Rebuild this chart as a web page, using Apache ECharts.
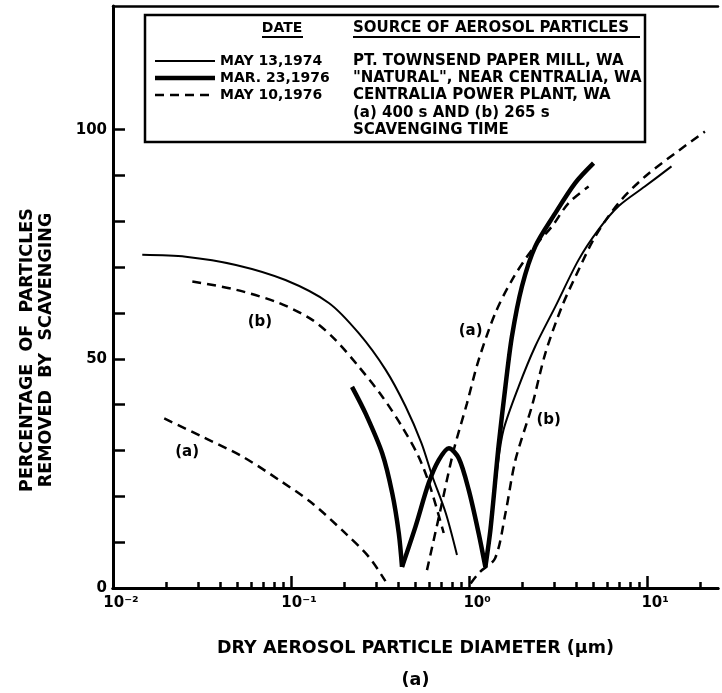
<!DOCTYPE html>
<html>
<head>
<meta charset="utf-8">
<script src="https://cdn.jsdelivr.net/npm/echarts@6/dist/echarts.min.js"></script>
<style>
  html, body { margin: 0; padding: 0; background: #fff; }
  #chart { width: 722px; height: 693px; }
</style>
</head>
<body>
<div id="chart"></div>
<script>
// diameter (um) / percentage removed
const mill1974Left = [[0.0146, 72.7], [0.0256, 72.3], [0.049, 70.5], [0.093, 67.2], [0.163, 62.2], [0.24, 55.6], [0.34, 47.6], [0.44, 39.6], [0.54, 31.6], [0.62, 24.5], [0.74, 16.3], [0.855, 7.2]];
const mill1974Right = [[1.23, 4.5], [1.33, 14], [1.45, 27], [1.56, 34.5], [1.9, 44], [2.35, 52.7], [3.05, 61.4], [4.12, 71.6], [5.33, 78.2], [6.9, 83.3], [9.7, 87.6], [13.7, 92]];
const natural1976Fall = [[0.22, 43.9], [0.262, 38.1], [0.325, 29.4], [0.37, 20.7], [0.403, 11.9], [0.42, 4.6]];
const natural1976Hump = [[0.42, 4.6], [0.5, 13.4], [0.593, 22.9], [0.675, 27.9], [0.77, 30.5], [0.875, 28.3], [0.995, 21.4], [1.132, 11.9], [1.234, 4.6]];
const natural1976Rise = [[1.234, 4.6], [1.32, 13], [1.466, 31.2], [1.6, 44], [1.74, 54.9], [1.98, 65.8], [2.35, 74.5], [3.05, 81.8], [3.95, 88.4], [5.0, 92.7]];
const plant1976LeftA = [[0.0194, 37.0], [0.0318, 33.0], [0.0532, 28.7], [0.0855, 23.6], [0.1315, 18.5], [0.2023, 11.9], [0.2734, 6.8], [0.339, 1.5]];
const plant1976LeftB = [[0.0279, 66.9], [0.0489, 65.1], [0.0855, 62.2], [0.1315, 58.5], [0.178, 54.1], [0.24, 48.3], [0.325, 41.8], [0.42, 35.2], [0.52, 28.7], [0.6, 22.5], [0.72, 12]];
const plant1976RightA = [[0.58, 3.9], [0.69, 17], [0.82, 30.1], [0.973, 40.3], [1.132, 49.8], [1.404, 60.0], [1.741, 67.2], [2.254, 73.8], [2.92, 78.9], [3.62, 84.0], [4.69, 87.6]];
const plant1976RightB = [[1.02, 1.0], [1.15, 3.5], [1.4, 6.5], [1.6, 16.3], [1.82, 27.9], [2.25, 39.6], [2.68, 51.2], [3.32, 61.4], [4.12, 69.4], [5.11, 76.7], [6.91, 84.0], [9.74, 89.8], [14.4, 94.9], [21.1, 99.6]];

// curve labels
const noteText = ['(b)', '(a)', '(a)', '(b)'];
const noteDiam = [0.0669, 0.0261, 1.02, 2.8];
const notePct = [58.1, 29.7, 56.1, 36.7];

// axis ticks
const diamMajor = [0.01, 0.1, 1, 10];
const diamMinor = [0.02, 0.03, 0.04, 0.05, 0.06, 0.07, 0.08, 0.09, 0.2, 0.3, 0.4, 0.5, 0.6, 0.7, 0.8, 0.9, 2, 3, 4, 5, 6, 7, 8, 9, 20];
const diamLabels = { 0.01: '10⁻²', 0.1: '10⁻¹', 1: '10⁰', 10: '10¹' };
const pctTicks = [0, 10, 20, 30, 40, 50, 60, 70, 80, 90, 100];
const pctLabels = [0, 50, 100];

const dates = ['MAY 13,1974', 'MAR. 23,1976', 'MAY 10,1976'];
const sources = ['PT. TOWNSEND PAPER MILL, WA', '"NATURAL", NEAR CENTRALIA, WA', 'CENTRALIA POWER PLANT, WA', '(a) 400 s AND (b) 265 s', 'SCAVENGING TIME'];

const FONT = 'DejaVu Sans';
const THIN = 2, THICK = 4.5, DASH = 2.5;
const gridBox = { left: 113, right: 4, top: 6, bottom: 105, outerBoundsMode: 'none', containLabel: false };

const chart = echarts.init(document.getElementById('chart'));

function curve(data, width, dashed) {
  return {
    type: 'line',
    xAxisIndex: 0,
    yAxisIndex: 0,
    data: data,
    symbol: 'none',
    smooth: 0.3,
    silent: true,
    lineStyle: { color: '#000', width: width, type: dashed ? [9, 6] : 'solid', cap: 'butt' }
  };
}

const rows = [61, 78, 95, 113, 130];
const legend = [
  { type: 'rect', shape: { x: 145, y: 15, width: 500, height: 127 }, style: { fill: '#fff', stroke: '#000', lineWidth: 2.5 } },
  { type: 'text', x: 282, y: 28, style: { text: 'DATE', font: 'bold 14px ' + FONT, fill: '#000', align: 'center', verticalAlign: 'middle' } },
  { type: 'line', shape: { x1: 262, y1: 37, x2: 303, y2: 37 }, style: { stroke: '#000', lineWidth: 2 } },
  { type: 'text', x: 353, y: 28, style: { text: 'SOURCE OF AEROSOL PARTICLES', font: 'bold 15px ' + FONT, fill: '#000', align: 'left', verticalAlign: 'middle' } },
  { type: 'line', shape: { x1: 353, y1: 37, x2: 640, y2: 37 }, style: { stroke: '#000', lineWidth: 2 } },
  { type: 'line', shape: { x1: 155, y1: rows[0], x2: 215, y2: rows[0] }, style: { stroke: '#000', lineWidth: THIN } },
  { type: 'line', shape: { x1: 155, y1: rows[1], x2: 215, y2: rows[1] }, style: { stroke: '#000', lineWidth: THICK } },
  { type: 'line', shape: { x1: 155, y1: rows[2], x2: 215, y2: rows[2] }, style: { stroke: '#000', lineWidth: DASH, lineDash: [9, 6] } }
];
dates.forEach((d, i) => legend.push({ type: 'text', x: 220, y: rows[i], style: { text: d, font: 'bold 14px ' + FONT, fill: '#000', align: 'left', verticalAlign: 'middle' } }));
sources.forEach((s, i) => legend.push({ type: 'text', x: 353, y: rows[i], style: { text: s, font: 'bold 15px ' + FONT, fill: '#000', align: 'left', verticalAlign: 'middle' } }));

const logAxisBase = { type: 'log', logBase: 10, min: 0.01, max: 25, splitLine: { show: false } };

const option = {
  animation: false,
  backgroundColor: '#fff',
  // second grid only carries the short minor ticks along the bottom
  grid: [Object.assign({}, gridBox), Object.assign({}, gridBox)],
  xAxis: [
    Object.assign({}, logAxisBase, {
      gridIndex: 0, position: 'bottom',
      axisLine: { lineStyle: { color: '#000', width: 3 } },
      axisTick: { inside: true, length: 12, customValues: diamMajor, lineStyle: { color: '#000', width: 2.5 } },
      axisLabel: {
        customValues: diamMajor, margin: 8, color: '#000',
        fontFamily: FONT, fontWeight: 'bold', fontSize: 15, padding: [0, 0, 0, 16],
        formatter: v => diamLabels[v] || ''
      },
      name: 'DRY AEROSOL PARTICLE DIAMETER (\u03bcm)\n(a)',
      nameLocation: 'middle', nameGap: 44,
      nameTextStyle: { color: '#000', fontFamily: FONT, fontWeight: 'bold', fontSize: 17.5, lineHeight: 32 }
    }),
    Object.assign({}, logAxisBase, {
      gridIndex: 0, position: 'top',
      axisLine: { lineStyle: { color: '#000', width: 2.5 } },
      axisTick: { show: false }, axisLabel: { show: false }
    }),
    Object.assign({}, logAxisBase, {
      gridIndex: 1, position: 'bottom',
      axisLine: { show: true, lineStyle: { color: '#000', width: 3 } },
      axisTick: { show: true, inside: true, length: 6, customValues: diamMinor, lineStyle: { color: '#000', width: 2.5 } },
      axisLabel: { show: false }
    })
  ],
  yAxis: [
    {
      gridIndex: 0, type: 'value', min: 0, max: 127,
      axisLine: { show: true, lineStyle: { color: '#000', width: 3 } },
      axisTick: { show: true, inside: true, length: 12, customValues: pctTicks, lineStyle: { color: '#000', width: 2.5 } },
      axisLabel: { customValues: pctLabels, margin: 6, color: '#000', fontFamily: FONT, fontWeight: 'bold', fontSize: 15 },
      splitLine: { show: false }
    },
    { gridIndex: 1, type: 'value', min: 0, max: 127, show: false }
  ],
  graphic: legend.concat([
    {
      type: 'text', x: 37, y: 350, rotation: Math.PI / 2,
      style: {
        text: 'PERCENTAGE  OF  PARTICLES\nREMOVED  BY  SCAVENGING',
        font: 'bold 17.5px ' + FONT, fill: '#000', align: 'center', verticalAlign: 'middle', lineHeight: 19
      }
    }
  ]),
  series: [
    curve(mill1974Left, THIN, false),
    curve(mill1974Right, THIN, false),
    curve(natural1976Fall, THICK, false),
    curve(natural1976Hump, THICK, false),
    curve(natural1976Rise, THICK, false),
    curve(plant1976LeftA, DASH, true),
    curve(plant1976LeftB, DASH, true),
    curve(plant1976RightA, DASH, true),
    curve(plant1976RightB, DASH, true),
    {
      type: 'scatter', xAxisIndex: 0, yAxisIndex: 0, symbolSize: 0, silent: true,
      itemStyle: { opacity: 1, color: '#000' },
      data: noteText.map((t, i) => ({ value: [noteDiam[i], notePct[i]], name: t })),
      label: { show: true, position: 'inside', formatter: p => p.name, color: '#000', opacity: 1, fontFamily: FONT, fontWeight: 'bold', fontSize: 15 }
    }
  ]
};

chart.setOption(option);
</script>
</body>
</html>
